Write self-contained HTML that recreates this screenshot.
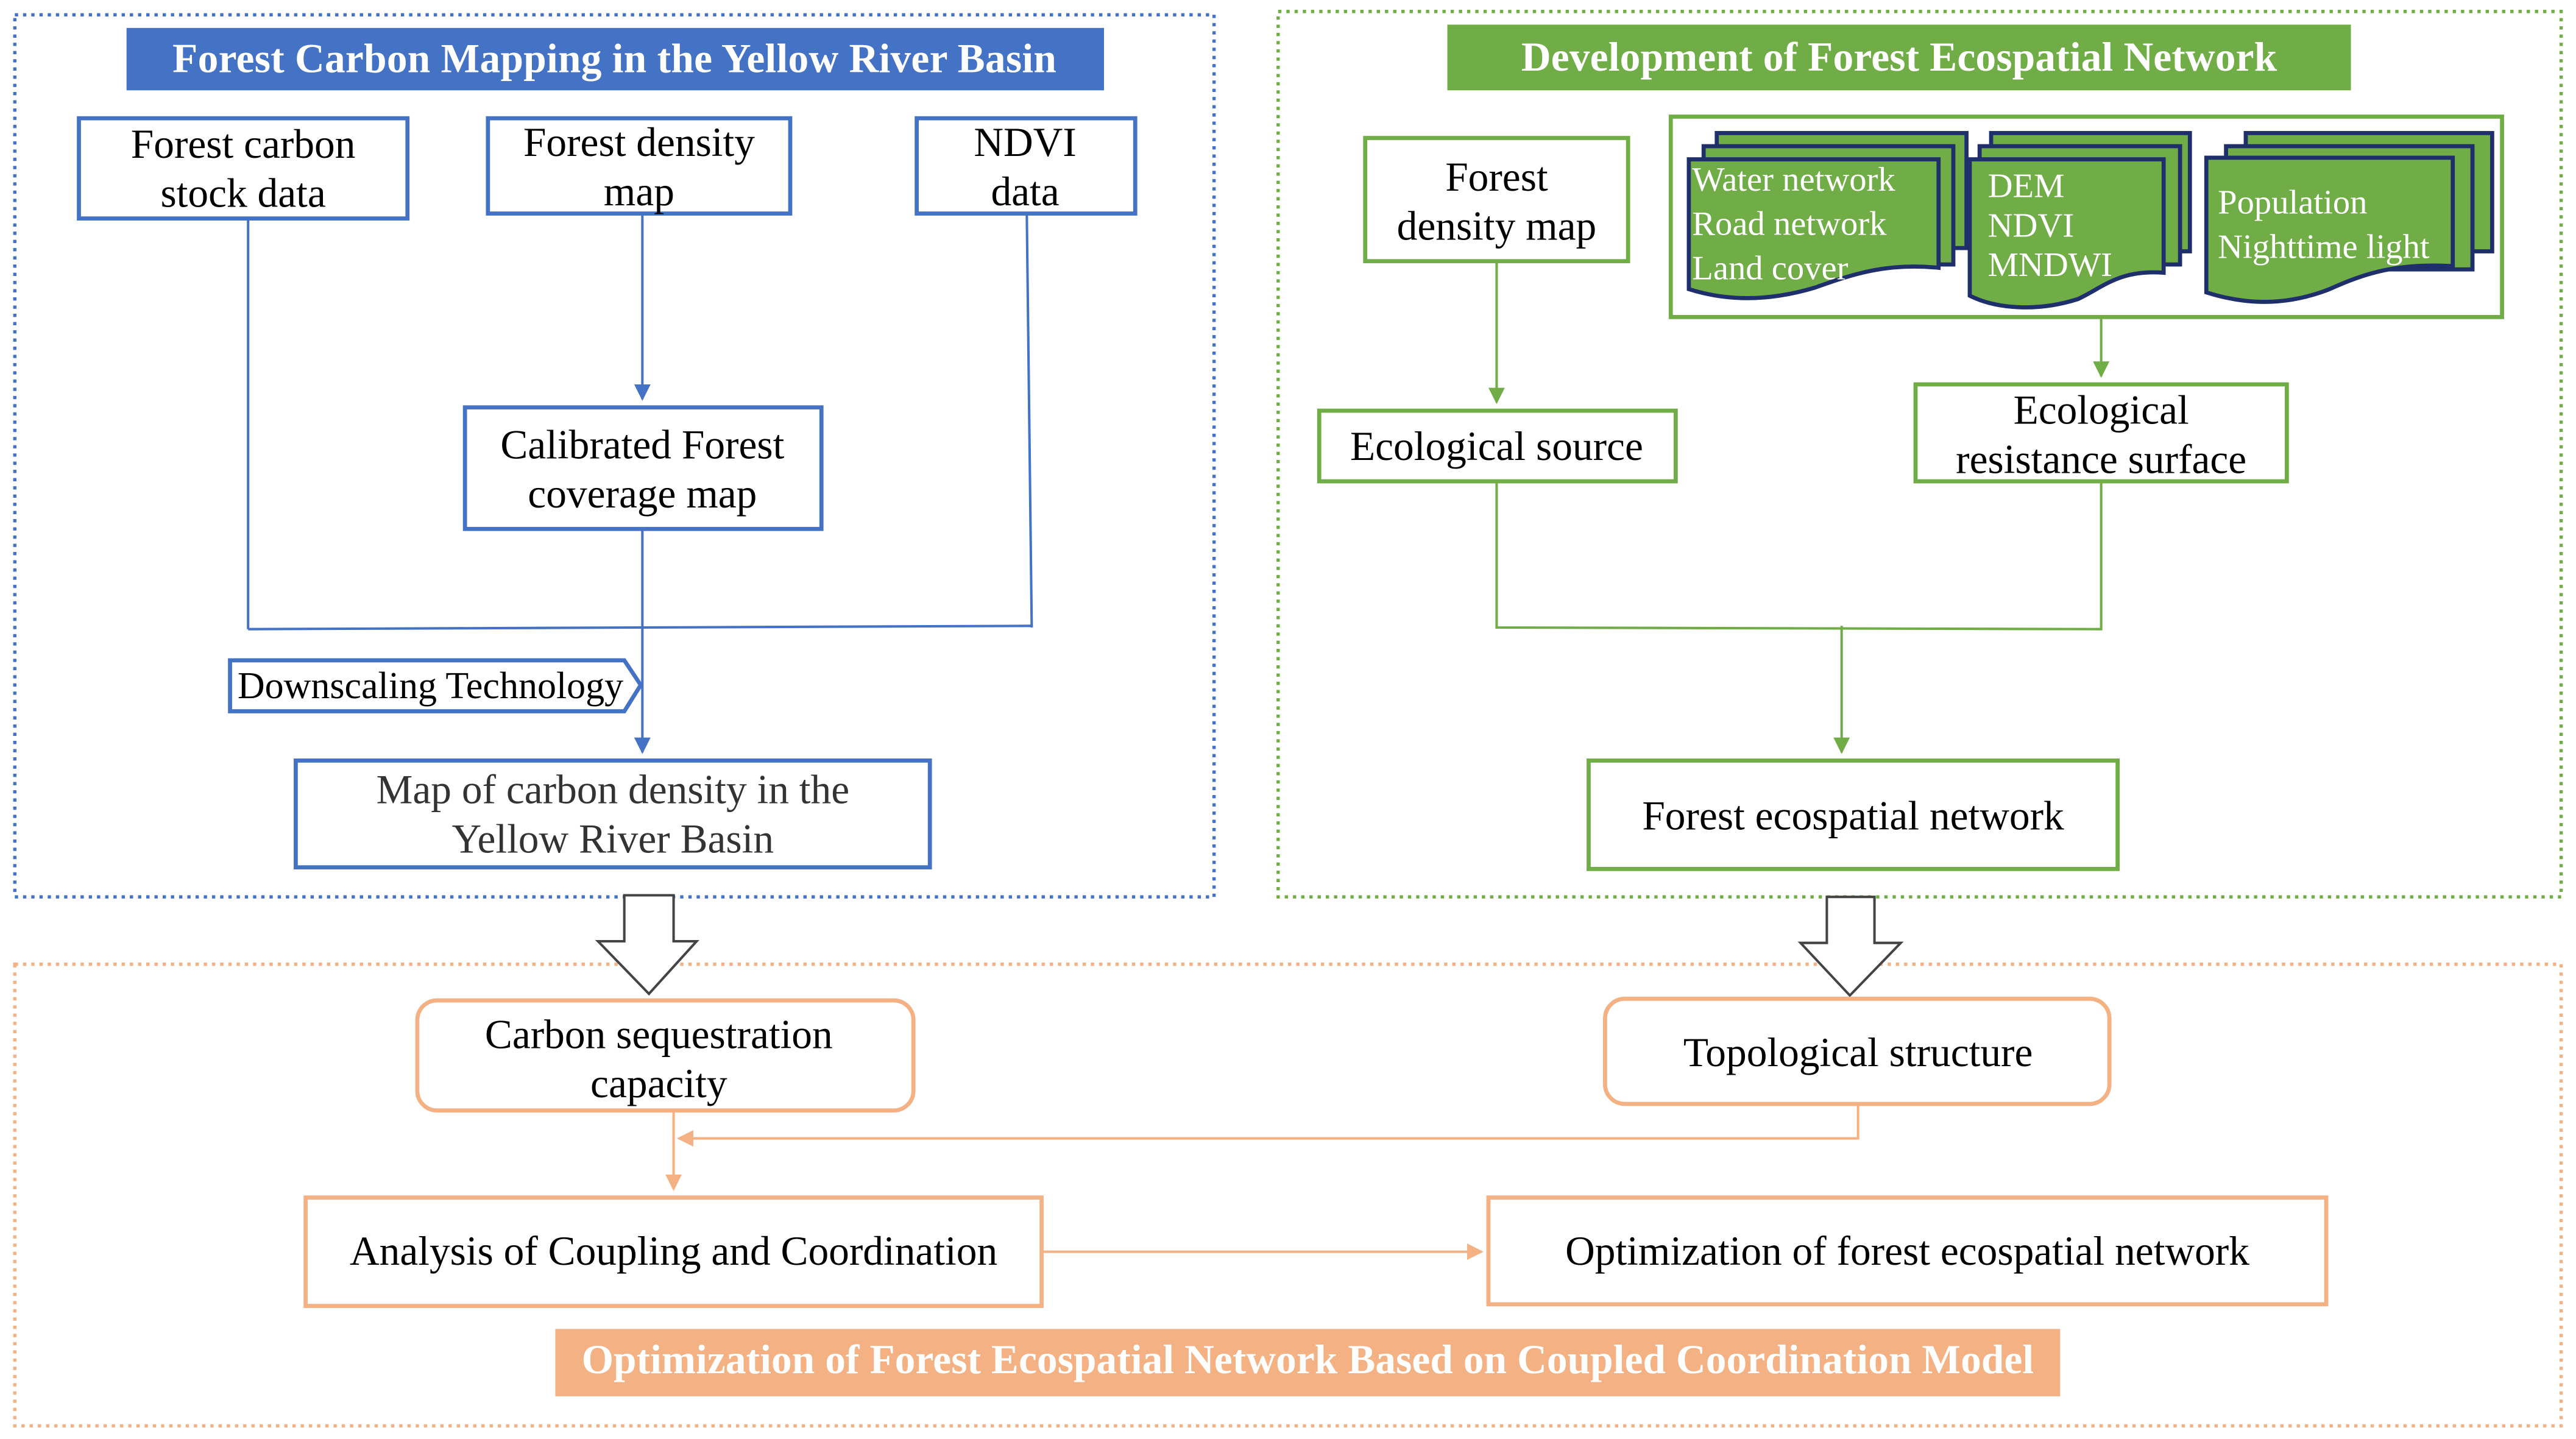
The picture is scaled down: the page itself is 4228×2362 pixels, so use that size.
<!DOCTYPE html>
<html><head><meta charset="utf-8"><style>
html,body{margin:0;padding:0;background:#fff;}
svg{display:block;}
svg text{font-family:"Liberation Serif","Times New Roman","DejaVu Serif",serif;}
</style></head><body>
<svg width="4228" height="2362" viewBox="0 0 1568 876" xmlns="http://www.w3.org/2000/svg">
<defs>
<marker id="ab" markerWidth="10" markerHeight="10" refX="9" refY="5" orient="auto" markerUnits="userSpaceOnUse"><path d="M0,0 L10,5 L0,10 z" fill="#4472C4"/></marker>
<marker id="ag" markerWidth="10" markerHeight="10" refX="9" refY="5" orient="auto" markerUnits="userSpaceOnUse"><path d="M0,0 L10,5 L0,10 z" fill="#70AD47"/></marker>
<marker id="ao" markerWidth="10" markerHeight="10" refX="9" refY="5" orient="auto" markerUnits="userSpaceOnUse"><path d="M0,0 L10,5 L0,10 z" fill="#F4B183"/></marker>
</defs>
<rect width="1568" height="876" fill="#fff"/>
<rect x="9" y="9" width="730" height="537" fill="none" stroke="#4472C4" stroke-width="2" stroke-dasharray="2,3"/>
<rect x="778" y="7" width="781" height="539" fill="none" stroke="#70AD47" stroke-width="2" stroke-dasharray="2,3"/>
<rect x="9" y="587" width="1550" height="281" fill="none" stroke="#F4B183" stroke-width="2" stroke-dasharray="2,3"/>

<rect x="77" y="17" width="595" height="38" fill="#4472C4"/>
<text x="374" y="44" font-size="25" font-weight="bold" fill="#fff" text-anchor="middle" textLength="538">Forest Carbon Mapping in the Yellow River Basin</text>
<rect x="881" y="15" width="550" height="40" fill="#70AD47"/>
<text x="1156" y="43" font-size="25" font-weight="bold" fill="#fff" text-anchor="middle" textLength="460">Development of Forest Ecospatial Network</text>
<rect x="338" y="809" width="916" height="41" fill="#F4B183"/>
<text x="796" y="836" font-size="25" font-weight="bold" fill="#fff" text-anchor="middle" textLength="884">Optimization of Forest Ecospatial Network Based on Coupled Coordination Model</text>

<g fill="#fff" stroke="#4472C4" stroke-width="2.5">
<rect x="48" y="72" width="200" height="61"/>
<rect x="297" y="72" width="184" height="58"/>
<rect x="558" y="72" width="133" height="58"/>
<rect x="283" y="248" width="217" height="74"/>
<rect x="180" y="463" width="386" height="65"/>
<path d="M140,402 L380,402 L390,417 L380,433 L140,433 Z"/>
</g>
<g font-size="25" fill="#000" text-anchor="middle">
<text x="148" y="96">Forest carbon</text><text x="148" y="126">stock data</text>
<text x="389" y="95">Forest density</text><text x="389" y="125">map</text>
<text x="624" y="95">NDVI</text><text x="624" y="125">data</text>
<text x="391" y="279">Calibrated Forest</text><text x="391" y="309">coverage map</text>
<text x="373" y="489" fill="#333">Map of carbon density in the</text><text x="373" y="519" fill="#333">Yellow River Basin</text>
<text x="262" y="425" font-size="23">Downscaling Technology</text>
</g>
<g stroke="#4472C4" stroke-width="1.5" fill="none">
<line x1="391" y1="130" x2="391" y2="243" marker-end="url(#ab)"/>
<line x1="151" y1="133" x2="151" y2="383"/>
<line x1="625" y1="130" x2="628" y2="382"/>
<line x1="151" y1="383" x2="628" y2="381"/>
<line x1="391" y1="322" x2="391" y2="458" marker-end="url(#ab)"/>
</g>

<g fill="#fff" stroke="#70AD47" stroke-width="2.5">
<rect x="831" y="84" width="160" height="75"/>
<rect x="1017" y="71" width="506" height="122"/>
<rect x="803" y="250" width="217" height="43"/>
<rect x="1166" y="234" width="226" height="59"/>
<rect x="967" y="463" width="322" height="66"/>
</g>
<g fill="#70AD47" stroke="#1F2F6B" stroke-width="2.5">
<rect x="1045" y="81" width="152" height="70"/>
<rect x="1037" y="89" width="152" height="72"/>
<path d="M1028,97 L1180,97 L1180,163 C1150,160 1130,166 1105,175 C1075,184 1050,183 1028,176 Z"/>
<rect x="1212" y="81" width="121" height="72"/>
<rect x="1205" y="89" width="122" height="72"/>
<path d="M1199,97 L1317,97 L1317,166 C1290,164 1280,175 1265,182 C1240,190 1215,188 1199,180 Z"/>
<rect x="1367" y="81" width="150" height="72"/>
<rect x="1355" y="89" width="150" height="75"/>
<path d="M1343,96 L1493,96 L1493,162 C1460,160 1440,166 1418,176 C1390,187 1365,185 1343,178 Z"/>
</g>
<g font-size="21" fill="#fff">
<text x="1030" y="116">Water network</text>
<text x="1030" y="143">Road network</text>
<text x="1030" y="170">Land cover</text>
<text x="1210" y="120">DEM</text>
<text x="1210" y="144">NDVI</text>
<text x="1210" y="168">MNDWI</text>
<text x="1350" y="130">Population</text>
<text x="1350" y="157">Nighttime light</text>
</g>
<g font-size="25" fill="#000" text-anchor="middle">
<text x="911" y="116">Forest</text><text x="911" y="146">density map</text>
<text x="911" y="280">Ecological source</text>
<text x="1279" y="258">Ecological</text><text x="1279" y="288">resistance surface</text>
<text x="1128" y="505">Forest ecospatial network</text>
</g>
<g stroke="#70AD47" stroke-width="1.5" fill="none">
<line x1="911" y1="159" x2="911" y2="245" marker-end="url(#ag)"/>
<line x1="1279" y1="193" x2="1279" y2="229" marker-end="url(#ag)"/>
<polyline points="911,293 911,382 1279,383 1279,293"/>
<line x1="1121" y1="381" x2="1121" y2="458" marker-end="url(#ag)"/>
</g>

<g fill="#fff" stroke="#444" stroke-width="1.5">
<path d="M380,545 L410,545 L410,573 L424,573 L395,605 L364,573 L380,573 Z"/>
<path d="M1112,546 L1141,546 L1141,574 L1157,574 L1126,606 L1096,574 L1112,574 Z"/>
</g>

<g fill="#fff" stroke="#F4B183" stroke-width="2.5">
<rect x="254" y="609" width="302" height="67" rx="12"/>
<rect x="977" y="608" width="307" height="64" rx="12"/>
<rect x="186" y="729" width="448" height="66"/>
<rect x="906" y="729" width="510" height="65"/>
</g>
<g font-size="25" fill="#000" text-anchor="middle">
<text x="401" y="638">Carbon sequestration</text><text x="401" y="668">capacity</text>
<text x="1131" y="649">Topological structure</text>
<text x="410" y="770">Analysis of Coupling and Coordination</text>
<text x="1161" y="770">Optimization of forest ecospatial network</text>
</g>
<g stroke="#F4B183" stroke-width="1.5" fill="none">
<polyline points="1131,672 1131,693 413,693" marker-end="url(#ao)"/>
<line x1="410" y1="676" x2="410" y2="724" marker-end="url(#ao)"/>
<line x1="634" y1="762" x2="902" y2="762" marker-end="url(#ao)"/>
</g>
</svg>
</body></html>
